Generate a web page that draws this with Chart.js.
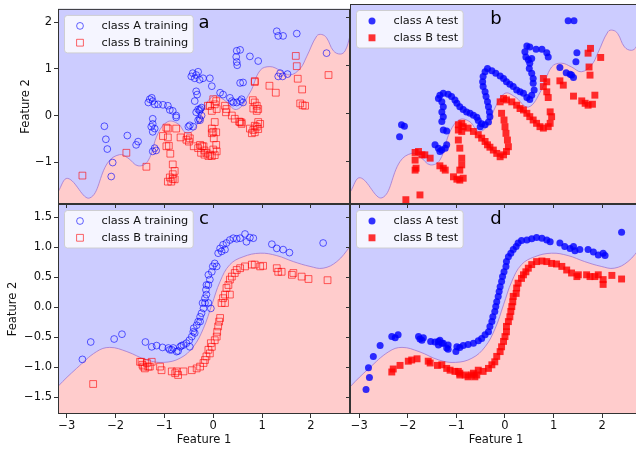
<!DOCTYPE html>
<html>
<head>
<meta charset="utf-8">
<script src="https://cdn.jsdelivr.net/npm/chart.js@4.4.0/dist/chart.umd.min.js"></script>
<style>
    html, body { margin: 0; padding: 0; background: #fff; }
    #fig { position: relative; width: 636px; height: 449px; overflow: hidden; }
    #fig canvas { position: absolute; left: 0; top: 0; }
</style>
</head>
<body>
<div id="fig">
    <canvas id="panelC" width="642" height="449"></canvas>
    <canvas id="panelD" width="642" height="449"></canvas>
    <canvas id="panelA" width="642" height="449"></canvas>
    <canvas id="panelB" width="642" height="449"></canvas>
</div>
<script>
// tick values
const xTicks = [-3, -2, -1, 0, 1, 2];
const yTicksTop = [-1, 0, 1, 2];
const yTicksBottom = [-1.5, -1.0, -0.5, 0.0, 0.5, 1.0, 1.5];

// decision boundaries (class B region lies below)
const boundaryTop = [[-3.30,-1.85],[-3.18,-1.64],[-2.98,-1.35],[-2.53,-1.77],[-2.16,-1.01],[-1.92,-0.84],[-1.75,-0.91],[-1.54,-1.08],
    [-1.34,-0.98],[-1.13,-0.38],[-0.93,-0.13],[-0.72,-0.18],[-0.55,-0.38],[-0.38,-0.28],[-0.18,0.17],[0.00,0.42],[0.20,0.35],
    [0.48,0.13],[0.75,0.49],[0.96,0.97],[1.16,1.05],[1.37,0.97],[1.57,0.87],[1.78,1.01],[1.91,1.26],[2.12,1.71],[2.22,1.74],
    [2.32,1.67],[2.46,1.39],[2.60,1.32],[2.70,1.39],[2.80,1.71],[2.90,2.10]];
const boundaryBottom = [[-3.30,-1.45],[-3.18,-1.32],[-2.80,-1.02],[-2.39,-0.74],[-2.12,-0.67],[-1.77,-0.74],[-1.36,-0.88],[-1.02,-0.92],
    [-0.68,-0.85],[-0.41,-0.66],[-0.20,-0.35],[-0.03,0.04],[0.14,0.43],[0.34,0.71],[0.61,0.84],[0.96,0.90],[1.30,0.86],
    [1.64,0.76],[1.98,0.68],[2.25,0.65],[2.53,0.76],[2.80,1.01],[2.90,1.12]];

// panel a
const trainA_top = [[-2.23,-0.23],[-2.20,-0.51],[-2.17,-0.72],[-2.06,-1.01],[-2.09,-1.31],[-1.76,-0.43],[-1.54,-0.56],[-1.58,-0.63],
    [-1.30,0.35],[-1.26,0.38],[-1.33,0.28],[-1.24,0.31],[-1.20,0.24],[-1.13,0.24],[-1.03,0.23],[-0.93,0.21],[-0.89,0.12],[-0.83,0.10],
    [-0.76,0.00],[-0.76,-0.04],[-1.24,-0.07],[-1.24,-0.18],[-1.27,-0.24],[-1.20,-0.28],[-1.24,-0.35],[-1.20,-0.70],[-1.17,-0.75],[-1.24,-0.77],
    [-0.42,0.91],[-0.35,0.87],[-0.31,0.94],[-0.38,0.80],[-0.28,0.77],[-0.21,0.80],[-0.45,0.84],
    [-0.35,0.52],[-0.33,0.45],[-0.38,0.31],[-0.31,0.13],[-0.35,0.07],[-0.28,0.10],[-0.24,0.17],[-0.28,-0.07],[-0.31,-0.10],
    [-0.48,-0.21],[-0.41,-0.24],[-0.51,-0.24],[1.30,1.81],[1.33,1.71],[1.43,1.71],[1.71,1.76],[2.32,1.34],
    [0.48,1.39],[0.55,1.41],[0.47,1.26],[0.48,1.15],[0.49,1.08],[0.75,1.27],[0.92,1.17],[0.55,0.70],[0.61,0.71],
    [1.37,0.91],[1.42,0.84],[1.52,0.89],[1.33,0.84],[-0.07,0.80],[-0.03,0.63],[0.14,0.49],[0.20,0.45],
    [0.34,0.38],[0.38,0.31],[0.41,0.28],[0.48,0.28],[0.58,0.35],[0.61,0.28],[0.55,0.31],[-0.27,0.14],[-0.24,0.00],[-0.27,-0.10]];
const trainB_top = [[-2.68,-1.29],[-1.78,-0.80],[-1.37,-1.10],
    [-0.96,-0.26],[-0.93,-0.28],[-1.03,-0.44],[-0.93,-0.47],[-0.76,-0.28],[-0.67,-0.47],[-0.96,-0.66],[-0.91,-0.65],[-0.88,-0.82],
    [-0.83,-1.05],[-0.79,-1.19],[-0.83,-1.26],[-0.89,-1.33],[-0.86,-1.42],[-0.93,-1.42],[-0.83,-1.36],[-0.79,-1.37],
    [-0.52,-0.44],[-0.48,-0.49],[-0.55,-0.52],[-0.50,-0.56],[-0.40,-0.66],[-0.31,-0.70],[-0.23,-0.66],[-0.18,-0.75],[-0.25,-0.80],[-0.18,-0.84],
    [-0.11,0.21],[0.00,0.35],[0.06,0.31],[0.03,0.24],[-0.07,0.21],[-0.03,0.10],[0.07,0.14],[0.24,0.21],[0.27,0.14],[0.26,0.07],
    [0.38,0.00],[0.44,-0.07],[0.53,-0.13],[0.58,-0.18],[0.03,-0.14],[-0.03,-0.28],[0.00,-0.35],[0.06,-0.36],[-0.03,-0.38],[0.01,-0.49],[0.06,-0.63],
    [-0.20,-0.66],[-0.14,-0.80],[-0.07,-0.84],[-0.03,-0.87],[0.03,-0.85],[0.00,-0.73],[0.07,-0.77],[-0.10,-0.87],
    [0.81,0.33],[0.85,0.28],[0.89,0.21],[0.92,0.14],[0.89,0.10],[0.82,0.15],[0.85,0.74],[0.85,0.72],[1.15,0.64],[1.28,0.49],
    [1.69,1.28],[1.71,1.06],[1.73,0.79],[1.82,0.56],[2.36,0.87],[1.78,0.26],[1.83,0.22],[1.88,0.21],
    [0.92,-0.14],[0.96,-0.18],[0.85,-0.22],[0.75,-0.28],[0.82,-0.31],[0.89,-0.24],[0.79,-0.38],[0.85,-0.36],[0.92,-0.29],
    [0.55,-0.14],[0.58,-0.15],[-0.27,-0.63]];

// panel b
const testA_top = [[-2.13,-0.24],[-2.07,-0.27],[-2.17,-0.49],
    [-1.44,-0.66],[-1.37,-0.73],[-1.30,-0.77],[-1.23,-0.73],[-1.20,-0.66],[-1.34,-0.80],[-1.27,-0.35],[-1.20,-0.37],[-1.30,-0.17],
    [-1.27,-0.07],[-1.30,0.03],[-1.27,0.14],[-1.30,0.24],[-1.37,0.31],[-1.34,0.38],[-1.27,0.42],[-1.17,0.40],[-1.10,0.35],[-1.03,0.28],
    [-0.99,0.21],[-0.93,0.14],[-0.86,0.08],[-0.79,0.03],[-0.72,0.00],[-0.65,-0.04],[-0.58,-0.08],[-0.55,-0.15],[-0.48,-0.22],[-0.51,-0.28],
    [-0.41,-0.24],[-0.34,-0.18],[-0.31,-0.07],[-0.32,0.03],[-0.34,0.14],[-0.36,0.24],[-0.39,0.35],[-0.41,0.45],[-0.45,0.56],[-0.46,0.66],
    [-0.45,0.77],[-0.41,0.87],[-0.36,0.94],[-0.27,0.89],[-0.19,0.84],[-0.10,0.78],
    [-0.03,0.73],[0.03,0.66],[0.10,0.61],[0.17,0.56],[0.24,0.49],[0.31,0.45],[0.38,0.42],[0.45,0.33],[0.51,0.29],[0.55,0.38],[0.60,0.49],
    [0.58,0.63],[0.58,0.73],[0.55,0.84],[0.50,0.94],[0.51,1.05],[0.55,1.15],[0.48,1.12],[0.43,1.18],[0.41,1.29],[0.45,1.41],[0.51,1.39],
    [0.64,1.34],[0.76,1.34],[0.86,1.27],[0.89,1.18],[1.30,1.94],[1.42,1.94],[1.48,1.27],[1.46,1.08],[1.13,0.96],[1.26,0.85],[1.34,0.82],
    [1.41,0.75],[1.37,0.80]];
const testB_top = [[-2.04,-1.81],[-1.75,-1.71],
    [-1.85,-0.82],[-1.78,-0.80],[-1.71,-0.87],[-1.65,-0.87],[-1.54,-0.94],[-1.85,-0.98],[-1.83,-1.15],[-1.85,-1.19],
    [-1.34,-1.10],[-1.27,-1.15],[-1.23,-1.19],[-1.06,-1.33],[-0.99,-1.38],[-0.93,-1.40],[-0.86,-1.36],
    [-0.96,-0.24],[-0.89,-0.21],[-0.86,-0.28],[-0.96,-0.35],[-0.89,-0.38],[-0.96,-0.56],[-0.93,-0.73],[-0.89,-0.94],[-0.89,-1.08],[-0.93,-1.19],
    [-0.76,-0.31],[-0.65,-0.38],[-0.55,-0.45],[-0.48,-0.52],[-0.41,-0.59],[-0.36,-0.66],[-0.31,-0.71],[-0.24,-0.77],[-0.17,-0.84],[-0.10,-0.91],
    [-0.03,-0.87],[0.03,-0.80],[0.07,-0.70],[0.05,-0.56],[0.02,-0.42],[0.00,-0.28],[-0.02,-0.14],[-0.07,0.00],
    [-0.10,0.24],[-0.03,0.31],[0.03,0.28],[0.14,0.24],[0.24,0.17],[0.31,0.10],[0.38,0.07],[0.45,0.00],[0.51,-0.07],[0.58,-0.14],
    [0.65,-0.21],[0.72,-0.28],[0.79,-0.31],[0.89,-0.28],[0.93,-0.21],[0.96,-0.07],[0.93,0.03],
    [0.79,0.73],[0.86,0.66],[0.79,0.56],[0.86,0.45],[0.89,0.33],[1.13,0.68],[1.20,0.59],[1.41,0.36],[1.58,0.26],[1.65,0.21],
    [1.71,0.17],[1.80,0.19],[1.85,0.38],[1.71,1.26],[1.76,1.36],[1.73,0.97],[1.75,0.80],[1.97,1.17]];

// panel c
const trainA_bottom = [[-2.68,-0.87],[-2.51,-0.58],[-2.03,-0.53],[-1.87,-0.45],[-1.39,-0.58],
    [-1.26,-0.66],[-1.16,-0.64],[-1.04,-0.67],[-0.92,-0.68],[-0.89,-0.71],[-0.85,-0.71],[-0.82,-0.68],[-0.75,-0.74],[-0.72,-0.73],
    [-0.68,-0.66],[-0.65,-0.64],[-0.61,-0.63],[-0.55,-0.60],[-0.48,-0.66],[-0.49,-0.55],[-0.44,-0.49],[-0.38,-0.43],[-0.41,-0.41],
    [-0.40,-0.35],[-0.34,-0.30],[-0.31,-0.24],[-0.27,-0.24],[-0.27,-0.16],[-0.24,-0.10],[-0.20,-0.02],[-0.05,-0.02],[-0.22,0.07],
    [-0.17,0.07],[-0.10,0.07],[-0.17,0.15],[-0.14,0.21],[-0.15,0.29],[-0.10,0.37],[-0.14,0.37],[-0.07,0.46],[-0.10,0.54],[-0.03,0.59],
    [-0.01,0.68],[0.03,0.73],[0.07,0.68],[0.10,0.90],[0.14,0.98],[0.17,0.93],[0.20,1.04],[0.24,0.96],[0.27,1.07],[0.34,1.12],
    [0.41,1.15],[0.48,1.14],[0.55,1.15],[0.65,1.22],[0.68,1.09],[0.75,1.16],[0.82,1.15],
    [1.20,1.05],[1.30,0.98],[1.43,0.96],[1.56,0.91],[2.25,1.07]];
const trainB_bottom = [[-2.46,-1.28],
    [-1.50,-0.91],[-1.45,-0.96],[-1.36,-0.93],[-1.26,-0.91],[-1.33,-0.99],[-1.40,-1.02],[-1.47,-0.91],[-1.43,-0.99],[-1.30,-0.99],
    [-1.09,-0.99],[-1.06,-1.05],[-0.85,-1.07],[-0.78,-1.10],[-0.72,-1.13],[-0.75,-1.07],[-0.61,-1.07],[-0.44,-1.05],[-0.34,-1.02],
    [-0.27,-0.99],[-0.20,-0.93],[-0.17,-0.88],[-0.14,-0.82],[-0.07,-0.77],[-0.10,-0.71],[-0.03,-0.66],[-0.05,-0.60],[0.03,-0.55],
    [0.07,-0.49],[0.08,-0.41],[0.10,-0.32],[0.12,-0.24],[0.14,-0.18],
    [0.17,0.07],[0.20,0.15],[0.24,0.21],[0.34,0.21],[0.24,0.07],[0.27,0.32],[0.31,0.37],[0.34,0.46],[0.38,0.51],[0.44,0.57],
    [0.48,0.62],[0.55,0.65],[0.65,0.68],[0.79,0.71],[0.85,0.71],[0.96,0.68],[1.02,0.69],
    [1.30,0.65],[1.33,0.59],[1.40,0.59],[1.64,0.57],[1.61,0.54],[1.81,0.51],[1.95,0.47],[2.34,0.45]];

// panel d
const testA_bottom = [[-2.86,-1.37],[-2.79,-1.17],[-2.81,-1.01],[-2.71,-0.82],[-2.57,-0.64],
    [-2.33,-0.49],[-2.26,-0.51],[-2.20,-0.46],[-1.78,-0.49],[-1.75,-0.53],[-1.68,-0.51],[-1.71,-0.55],
    [-1.53,-0.57],[-1.44,-0.58],[-1.37,-0.57],[-1.34,-0.55],[-1.30,-0.60],[-1.37,-0.63],[-1.17,-0.63],[-1.17,-0.70],[-1.27,-0.60],[-1.20,-0.68],
    [-0.99,-0.66],[-1.01,-0.74],[-0.93,-0.67],[-0.86,-0.64],[-0.76,-0.62],[-0.65,-0.60],[-0.55,-0.56],[-0.48,-0.52],[-0.41,-0.46],
    [-0.34,-0.41],[-0.31,-0.32],[-0.27,-0.24],[-0.25,-0.16],[-0.21,-0.07],[-0.19,0.01],[-0.17,0.09],[-0.14,0.18],[-0.12,0.26],
    [-0.10,0.34],[-0.07,0.43],[-0.05,0.51],[-0.02,0.59],[0.02,0.68],[0.03,0.76],[0.07,0.84],[0.12,0.90],[0.17,0.96],[0.23,1.01],
    [0.27,1.07],[0.34,1.11],[0.45,1.12],[0.55,1.14],[0.65,1.16],[0.76,1.15],[0.86,1.12],[0.93,1.09],
    [1.13,1.07],[1.23,1.01],[1.34,0.98],[1.44,0.94],[1.41,1.01],[1.54,0.96],[1.71,0.96],[1.82,0.92],[1.92,0.87],[2.02,0.90],[2.06,0.86],[2.40,1.25]];
const testB_bottom = [[-2.33,-1.08],[-2.30,-1.03],[-2.16,-0.97],[-1.99,-0.90],[-1.92,-0.88],[-1.81,-0.86],[-1.58,-0.90],[-1.54,-0.93],[-1.39,-0.97],
    [-1.30,-0.96],[-1.20,-1.02],[-1.13,-1.05],[-1.03,-1.07],[-0.96,-1.07],[-0.93,-1.13],[-0.93,-1.10],[-0.82,-1.13],[-0.76,-1.16],
    [-0.69,-1.13],[-0.65,-1.10],[-0.62,-1.16],[-0.58,-1.13],[-0.55,-1.05],[-0.45,-1.07],[-0.34,-1.02],[-0.27,-0.96],[-0.21,-0.91],
    [-0.17,-0.82],[-0.10,-0.74],[-0.07,-0.66],[-0.03,-0.57],[0.00,-0.49],[0.03,-0.41],[0.03,-0.32],[0.07,-0.24],[0.10,-0.16],
    [0.12,-0.07],[0.14,0.01],[0.16,0.09],[0.17,0.18],[0.23,0.23],[0.24,0.32],[0.27,0.40],[0.34,0.48],[0.38,0.54],[0.43,0.59],
    [0.48,0.65],[0.55,0.71],[0.65,0.76],[0.76,0.77],[0.86,0.76],[0.96,0.73],[1.06,0.72],[1.17,0.68],[1.27,0.62],[1.37,0.57],[1.48,0.51],
    [1.51,0.54],[1.68,0.54],[1.75,0.51],[1.85,0.51],[1.92,0.54],[2.02,0.46],[2.02,0.38],[2.20,0.53],[2.40,0.47]];

const BLUE_BG = 'rgb(204,204,255)';
const RED_BG = 'rgb(255,204,204)';
const FONT = { family: 'DejaVu Sans', size: 11.5 };
const CANVAS_W = 642, CANVAS_H = 449;

function minus(s) { return String(s).replace('-', '\u2212'); }
function toPts(arr) { return arr.map(p => ({ x: p[0], y: p[1] })); }

function markerStyle(kind)
{
    if (kind === 'trainA') return { pointStyle: 'circle', pointRadius: 3.4, pointBorderWidth: 1, pointBorderColor: 'rgba(0,0,255,0.6)', pointBackgroundColor: 'rgba(0,0,0,0)' };
    if (kind === 'trainB') return { pointStyle: 'rect', pointRadius: 4.8, pointBorderWidth: 1, pointBorderColor: 'rgba(255,0,0,0.6)', pointBackgroundColor: 'rgba(0,0,0,0)' };
    if (kind === 'testA') return { pointStyle: 'circle', pointRadius: 3.5, pointBorderWidth: 0, pointBorderColor: 'rgba(0,0,0,0)', pointBackgroundColor: 'rgba(0,0,255,0.8)' };
    return { pointStyle: 'rect', pointRadius: 4.9, pointBorderWidth: 0, pointBorderColor: 'rgba(0,0,0,0)', pointBackgroundColor: 'rgba(255,0,0,0.8)' };
}

function drawMarker(ctx, kind, x, y)
{
    const s = markerStyle(kind);
    ctx.save();
    ctx.beginPath();
    if (s.pointStyle === 'circle') ctx.arc(x, y, s.pointRadius, 0, Math.PI * 2);
    else { const h = s.pointRadius * Math.SQRT1_2; ctx.rect(x - h, y - h, 2 * h, 2 * h); }
    ctx.fillStyle = s.pointBackgroundColor;
    ctx.fill();
    if (s.pointBorderWidth > 0) { ctx.lineWidth = s.pointBorderWidth; ctx.strokeStyle = s.pointBorderColor; ctx.stroke(); }
    ctx.restore();
}

function panelDecor(cfg)
{
    return {
        id: 'decor',
        beforeDraw(chart) {
            const a = chart.chartArea, ctx = chart.ctx;
            ctx.save();
            ctx.fillStyle = BLUE_BG;
            ctx.fillRect(a.left, a.top, a.right - a.left, a.bottom - a.top);
            ctx.restore();
        },
        afterDraw(chart) {
            const a = chart.chartArea, ctx = chart.ctx;
            ctx.save();
            // frame
            ctx.strokeStyle = '#333';
            ctx.lineWidth = 1;
            ctx.strokeRect(a.left + 0.5, a.top + 0.5, a.right - a.left - 1, a.bottom - a.top - 1);

            // legend
            ctx.font = '11.3px "DejaVu Sans"';
            const textW = Math.max(...cfg.legend.map(it => ctx.measureText(it.label).width));
            const bx = a.left + 6.5, by = a.top + 6.5;
            const bw = 37 + textW + 5, bh = 37.5;
            ctx.beginPath();
            ctx.roundRect(bx, by, bw, bh, 3);
            ctx.fillStyle = 'rgba(255,255,255,0.8)';
            ctx.fill();
            ctx.strokeStyle = 'rgba(204,204,204,0.9)';
            ctx.stroke();
            cfg.legend.forEach((it, i) => {
                const ry = by + 10.5 + i * 16.8;
                drawMarker(ctx, it.kind, bx + 15.5, ry);
                ctx.fillStyle = '#111';
                ctx.textBaseline = 'middle';
                ctx.textAlign = 'left';
                ctx.fillText(it.label, bx + 37, ry);
            });

            // panel letter
            ctx.font = '18px "DejaVu Sans"';
            ctx.fillStyle = '#000';
            ctx.textAlign = 'center';
            ctx.textBaseline = 'middle';
            ctx.fillText(cfg.letter, (a.left + a.right) / 2, a.top + 0.075 * (a.bottom - a.top));
            ctx.restore();
        }
    };
}

function makePanel(id, cfg)
{
    const ctx = document.getElementById(id).getContext('2d');
    const box = cfg.box;

    const datasets = cfg.series.map(s => Object.assign({
        label: s.label,
        data: toPts(s.data),
        order: 1
    }, markerStyle(s.kind)));

    datasets.push({
        type: 'line',
        label: 'boundary',
        data: toPts(cfg.boundary),
        showLine: true,
        pointRadius: 0,
        borderColor: 'rgba(160,120,210,0.8)',
        borderWidth: 1,
        backgroundColor: RED_BG,
        fill: 'start',
        tension: 0.4,
        order: 10
    });

    return new Chart(ctx, {
        type: 'scatter',
        data: { datasets: datasets },
        options: {
            responsive: false,
            animation: false,
            events: [],
            layout: {
                autoPadding: false,
                padding: {
                    left: box.left - cfg.yWidth,
                    right: CANVAS_W - box.right,
                    top: box.top,
                    bottom: CANVAS_H - box.bottom - cfg.xHeight
                }
            },
            plugins: {
                legend: { display: false },
                tooltip: { enabled: false }
            },
            scales: {
                x: {
                    type: 'linear',
                    min: cfg.xMin,
                    max: cfg.xMax,
                    afterBuildTicks: s => { s.ticks = xTicks.map(v => ({ value: v })); },
                    afterFit: s => { s.height = cfg.xHeight; },
                    grid: { drawOnChartArea: false, drawTicks: true, tickLength: 4, tickColor: '#333', tickWidth: 1 },
                    border: { display: false },
                    ticks: { display: cfg.showX, padding: 1.5, color: '#111', font: FONT, callback: v => minus(v) },
                    title: { display: cfg.showX, text: 'Feature 1', color: '#111', font: FONT, padding: { top: 0, bottom: 2 } }
                },
                y: {
                    type: 'linear',
                    min: cfg.yMin,
                    max: cfg.yMax,
                    afterBuildTicks: s => { s.ticks = cfg.yTicks.map(v => ({ value: v })); },
                    afterFit: s => { s.width = cfg.yWidth; },
                    grid: { drawOnChartArea: false, drawTicks: true, tickLength: 4, tickColor: '#333', tickWidth: 1 },
                    border: { display: false },
                    ticks: { display: cfg.showY, padding: 2, color: '#111', font: FONT, callback: v => minus(cfg.yFmt(v)) },
                    title: { display: cfg.showY, text: 'Feature 2', color: '#111', font: FONT, padding: { top: cfg.yTitlePad, bottom: 0 } }
                }
            }
        },
        plugins: [panelDecor(cfg)]
    });
}

const topRange = { yMin: -1.90, yMax: 2.29, yTicks: yTicksTop, yFmt: v => String(v) };
const bottomRange = { yMin: -1.78, yMax: 1.72, yTicks: yTicksBottom, yFmt: v => v.toFixed(1) };

makePanel('panelC', Object.assign({
    box: { left: 58, right: 350, top: 204, bottom: 414 }, xMin: -3.18, xMax: 2.80,
    yWidth: 52, xHeight: 35, showX: true, showY: true, yTitlePad: 0.5, letter: 'c',
    boundary: boundaryBottom,
    series: [{ label: 'class A training', kind: 'trainA', data: trainA_bottom }, { label: 'class B training', kind: 'trainB', data: trainB_bottom }],
    legend: [{ label: 'class A training', kind: 'trainA' }, { label: 'class B training', kind: 'trainB' }]
}, bottomRange));

makePanel('panelD', Object.assign({
    box: { left: 350, right: 642, top: 204, bottom: 414 }, xMin: -3.19, xMax: 2.82,
    yWidth: 4, xHeight: 35, showX: true, showY: false, yTitlePad: 0, letter: 'd',
    boundary: boundaryBottom,
    series: [{ label: 'class A test', kind: 'testA', data: testA_bottom }, { label: 'class B test', kind: 'testB', data: testB_bottom }],
    legend: [{ label: 'class A test', kind: 'testA' }, { label: 'class B test', kind: 'testB' }]
}, bottomRange));

makePanel('panelA', Object.assign({
    box: { left: 58, right: 350, top: 4, bottom: 204 }, xMin: -3.18, xMax: 2.80,
    yWidth: 40, xHeight: 4, showX: false, showY: true, yTitlePad: 1, letter: 'a',
    boundary: boundaryTop,
    series: [{ label: 'class A training', kind: 'trainA', data: trainA_top }, { label: 'class B training', kind: 'trainB', data: trainB_top }],
    legend: [{ label: 'class A training', kind: 'trainA' }, { label: 'class B training', kind: 'trainB' }]
}, topRange));

makePanel('panelB', Object.assign({
    box: { left: 350, right: 642, top: 4, bottom: 204 }, xMin: -3.19, xMax: 2.82,
    yWidth: 4, xHeight: 4, showX: false, showY: false, yTitlePad: 0, letter: 'b',
    boundary: boundaryTop,
    series: [{ label: 'class A test', kind: 'testA', data: testA_top }, { label: 'class B test', kind: 'testB', data: testB_top }],
    legend: [{ label: 'class A test', kind: 'testA' }, { label: 'class B test', kind: 'testB' }]
}, topRange));
</script>
</body>
</html>
